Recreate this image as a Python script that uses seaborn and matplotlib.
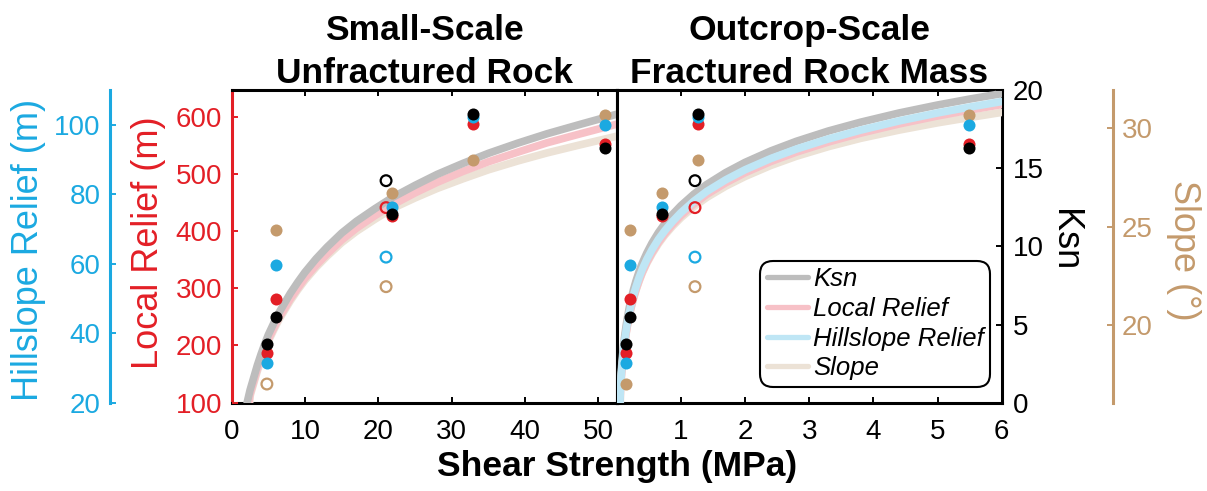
import matplotlib
matplotlib.use("Agg")
import matplotlib.pyplot as plt
from matplotlib.lines import Line2D
import seaborn as sns

# ---- values ----
# five sites, filled markers
ucs_mpa = [4.8, 6.05, 21.85, 32.9, 50.9]        # small-scale unfractured rock strength
mass_mpa = [0.145, 0.207, 0.71, 1.27, 5.49]     # outcrop-scale rock mass strength
ksn = [3.75, 5.5, 12.1, 18.45, 16.3]
local_relief = [186, 281, 427, 587, 553]
hillslope_relief = [31.3, 59.5, 76.2, 102.3, 100.0]
slope = [17.0, 24.85, 26.7, 28.4, 30.7]
slope_hollow_left = [True, False, False, False, False]

# site drawn with hollow markers
hollow_ucs = [21.05]
hollow_mass = [1.22]
hollow_ksn = [14.2]
hollow_local_relief = [441]
hollow_hillslope_relief = [61.9]
hollow_slope = [21.95]

# fitted curves
fit_ucs_ksn_x = [2.1, 2.3, 2.5, 2.75, 3, 3.5, 4, 4.5, 5, 5.75, 6.5, 7.25, 8, 9, 10, 11.5,
                 13, 15, 17, 19.5, 22, 25, 28, 31.5, 35, 39, 43, 47.5, 52.5]
fit_ucs_ksn = [0.0, 0.4, 0.8, 1.2, 1.6, 2.4, 3.1, 3.75, 4.35, 5.1, 5.8, 6.4, 7.0, 7.7,
               8.35, 9.2, 9.95, 10.85, 11.6, 12.4, 13.15, 13.9, 14.6, 15.3, 15.95, 16.6,
               17.2, 17.8, 18.45]
fit_ucs_lr_x = [2.35, 2.5, 2.75, 3, 3.5, 4, 4.5, 5, 5.75, 6.5, 7.25, 8, 9, 10, 11.5, 13,
                15, 17, 19.5, 22, 25, 28, 31.5, 35, 39, 43, 47.5, 52.5]
fit_ucs_lr = [100, 114.9, 125.8, 136.7, 158.6, 177.8, 195.5, 211.0, 230.6, 249.8, 265.4,
              281.6, 300.0, 317.8, 340.0, 359.8, 384.4, 404.9, 426.7, 446.3, 466.7, 485.1,
              504.1, 521.1, 537.9, 554.3, 569.9, 586.8]
fit_ucs_slope_x = [2.45, 2.5, 2.75, 3, 3.5, 4, 4.5, 5, 5.75, 6.5, 7.25, 8, 9, 10, 11.5,
                   13, 15, 17, 19.5, 22, 25, 28, 31.5, 35, 39, 43, 47.5, 52.5]
fit_ucs_slope = [16.05, 16.38, 16.70, 17.02, 17.65, 18.21, 18.71, 19.18, 19.76, 20.31,
                 20.77, 21.23, 21.78, 22.28, 22.93, 23.50, 24.19, 24.76, 25.37, 25.94,
                 26.46, 26.94, 27.43, 27.89, 28.34, 28.75, 29.16, 29.60]

fit_mass_ksn_x = [0.045, 0.05, 0.06, 0.07, 0.08, 0.09, 0.1, 0.115, 0.13, 0.15, 0.17, 0.195,
                  0.22, 0.26, 0.3, 0.35, 0.4, 0.47, 0.55, 0.65, 0.75, 0.87, 1.0, 1.2, 1.4,
                  1.7, 2.0, 2.4, 2.8, 3.3, 3.8, 4.4, 5.0, 5.5, 6.0]
fit_mass_ksn = [0.0, 0.62, 1.35, 1.96, 2.50, 2.97, 3.39, 3.95, 4.44, 5.01, 5.51, 6.06,
                6.54, 7.21, 7.78, 8.40, 8.94, 9.58, 10.21, 10.88, 11.45, 12.04, 12.6,
                13.33, 13.95, 14.72, 15.37, 16.10, 16.72, 17.38, 17.94, 18.53, 19.04,
                19.42, 19.77]
fit_mass_hr_x = [0.05, 0.06, 0.07, 0.08, 0.09, 0.1, 0.115, 0.13, 0.15, 0.17, 0.195, 0.22,
                 0.26, 0.3, 0.35, 0.4, 0.47, 0.55, 0.65, 0.75, 0.87, 1.0, 1.2, 1.4, 1.7,
                 2.0, 2.4, 2.8, 3.3, 3.8, 4.4, 5.0, 5.5, 6.0]
fit_mass_hr = [20, 24.92, 27.66, 30.10, 32.20, 34.05, 36.52, 38.65, 41.16, 43.35, 45.76,
               47.89, 50.83, 53.33, 56.07, 58.46, 61.28, 64.04, 67.01, 69.51, 72.16, 74.69,
               77.97, 80.77, 84.16, 87.04, 90.27, 93.00, 95.91, 98.44, 101.09, 103.39,
               105.09, 106.67]
fit_mass_lr_x = [0.052, 0.06, 0.07, 0.08, 0.09, 0.1, 0.115, 0.13, 0.15, 0.17, 0.195, 0.22,
                 0.26, 0.3, 0.35, 0.4, 0.47, 0.55, 0.65, 0.75, 0.87, 1.0, 1.2, 1.4, 1.7,
                 2.0, 2.4, 2.8, 3.3, 3.8, 4.4, 5.0, 5.5, 6.0]
fit_mass_lr = [100, 124.6, 141.3, 156.1, 168.9, 180.1, 195.1, 208.0, 223.2, 236.5, 251.2,
               264.1, 282.0, 297.2, 313.8, 328.3, 345.4, 362.2, 380.2, 395.4, 411.5, 426.9,
               446.8, 463.8, 484.4, 501.9, 521.5, 538.0, 555.7, 571.1, 587.2, 601.2, 611.5,
               621.1]
fit_mass_slope_x = [0.056, 0.06, 0.07, 0.08, 0.09, 0.1, 0.115, 0.13, 0.15, 0.17, 0.195,
                    0.22, 0.26, 0.3, 0.35, 0.4, 0.47, 0.55, 0.65, 0.75, 0.87, 1.0, 1.2, 1.4,
                    1.7, 2.0, 2.4, 2.8, 3.3, 3.8, 4.4, 5.0, 5.5, 6.0]
fit_mass_slope = [16.05, 16.82, 17.29, 17.71, 18.07, 18.40, 18.84, 19.21, 19.64, 20.03,
                  20.45, 20.82, 21.33, 21.76, 22.23, 22.65, 23.14, 23.61, 24.13, 24.57,
                  25.02, 25.45, 26.01, 26.48, 27.06, 27.55, 28.11, 28.58, 29.07, 29.49,
                  29.91, 30.28, 30.55, 30.81]

legend_labels = ["Ksn", "Local Relief", "Hillslope Relief", "Slope"]

# ---- style ----
sns.set_style("white")
plt.rcParams["font.family"] = ["Liberation Sans", "DejaVu Sans"]
plt.rcParams["text.color"] = "black"
plt.rcParams["axes.labelcolor"] = "black"

RED = "#e31f26"
CYAN = "#1ba9e1"
TAN = "#c49a6c"
BLACK = "#000000"
FIT = {"ksn": "#bdbdbd", "lr": "#f7c1c7", "hr": "#bfe6f5", "slope": "#ece2d6"}
LIMS = {"ksn": (0, 20), "lr": (100, 646.6), "hr": (20, 110), "slope": (16.05, 31.95)}
TICK = dict(direction="in", length=4, width=1.4, labelsize=20)

fig = plt.figure(figsize=(12.07, 4.91), dpi=100)


def build_panel(rect, curve_order):
    base = fig.add_axes(rect)
    base.set_yticks([])
    curve_ax = {k: base.twinx() for k in curve_order}
    point_ax = {k: base.twinx() for k in ["slope", "lr", "hr", "ksn"]}
    for s in base.spines.values():
        s.set_linewidth(2.2)
        s.set_color(BLACK)
    base.tick_params(axis="x", top=True, bottom=True, pad=12, colors=BLACK, **TICK)
    return base, curve_ax, point_ax


def draw_fit(ax, x, y, key):
    sns.lineplot(x=x, y=y, ax=ax, color=FIT[key], linewidth=5.5,
                 estimator=None, sort=False, legend=False)


def draw_pts(ax, x, y, color, hollow=False):
    if len(x) == 0:
        return
    sns.scatterplot(x=x, y=y, ax=ax, color=color, s=60 if hollow else 75,
                    linewidth=0, legend=False)
    if hollow:
        coll = ax.collections[-1]
        coll.set_facecolor("none")
        coll.set_edgecolor(color)
        coll.set_linewidth(1.6)


def finish(base, curve_ax, point_ax, xlim):
    for k, a in list(curve_ax.items()) + list(point_ax.items()):
        a.set_ylim(LIMS[k])
        a.set_yticks([])
        a.set_ylabel("")
        for s in a.spines.values():
            s.set_visible(False)
    base.set_xlim(xlim)


# ---- left panel: small-scale unfractured rock ----
bL, cL, pL = build_panel([0.19196, 0.17984, 0.31897, 0.63686], ["slope", "lr", "ksn"])
draw_fit(cL["slope"], fit_ucs_slope_x, fit_ucs_slope, "slope")
draw_fit(cL["lr"], fit_ucs_lr_x, fit_ucs_lr, "lr")
draw_fit(cL["ksn"], fit_ucs_ksn_x, fit_ucs_ksn, "ksn")

draw_pts(pL["slope"], [x for x, h in zip(ucs_mpa, slope_hollow_left) if not h],
         [v for v, h in zip(slope, slope_hollow_left) if not h], TAN)
draw_pts(pL["slope"], [x for x, h in zip(ucs_mpa, slope_hollow_left) if h],
         [v for v, h in zip(slope, slope_hollow_left) if h], TAN, hollow=True)
draw_pts(pL["slope"], hollow_ucs, hollow_slope, TAN, hollow=True)
draw_pts(pL["lr"], ucs_mpa, local_relief, RED)
draw_pts(pL["lr"], hollow_ucs, hollow_local_relief, RED, hollow=True)
draw_pts(pL["hr"], ucs_mpa, hillslope_relief, CYAN)
draw_pts(pL["hr"], hollow_ucs, hollow_hillslope_relief, CYAN, hollow=True)
draw_pts(pL["ksn"], ucs_mpa, ksn, BLACK)
draw_pts(pL["ksn"], hollow_ucs, hollow_ksn, BLACK, hollow=True)
finish(bL, cL, pL, (0, 52.5))
bL.set_xticks([0, 10, 20, 30, 40, 50])
bL.spines["left"].set_color(RED)
bL.set_title("Small-Scale\nUnfractured Rock", fontsize=25.5, fontweight="bold",
             pad=4, linespacing=1.37)

ax = pL["lr"]
ax.yaxis.tick_left()
ax.set_yticks([100, 200, 300, 400, 500, 600])
ax.tick_params(axis="y", colors=RED, pad=7, **TICK)
ax.yaxis.set_label_position("left")
ax.set_ylabel("Local Relief (m)", color=RED, fontsize=26, va="center")
ax.yaxis.set_label_coords(-0.217, 0.512)

ax = pL["hr"]
ax.spines["left"].set_visible(True)
ax.spines["left"].set_position(("axes", -0.316))
ax.spines["left"].set_color(CYAN)
ax.spines["left"].set_linewidth(2.2)
ax.yaxis.tick_left()
ax.set_yticks([20, 40, 60, 80, 100])
ax.tick_params(axis="y", colors=CYAN, pad=7, **TICK)
ax.yaxis.set_label_position("left")
ax.set_ylabel("Hillslope Relief (m)", color=CYAN, fontsize=26, va="center")
ax.yaxis.set_label_coords(-0.5265, 0.488)

# ---- right panel: outcrop-scale fractured rock mass ----
bR, cR, pR = build_panel([0.51094, 0.17984, 0.31897, 0.63686],
                         ["slope", "lr", "ksn", "hr"])
draw_fit(cR["slope"], fit_mass_slope_x, fit_mass_slope, "slope")
draw_fit(cR["lr"], fit_mass_lr_x, fit_mass_lr, "lr")
draw_fit(cR["ksn"], fit_mass_ksn_x, fit_mass_ksn, "ksn")
draw_fit(cR["hr"], fit_mass_hr_x, fit_mass_hr, "hr")

draw_pts(pR["slope"], mass_mpa, slope, TAN)
draw_pts(pR["slope"], hollow_mass, hollow_slope, TAN, hollow=True)
draw_pts(pR["lr"], mass_mpa, local_relief, RED)
draw_pts(pR["lr"], hollow_mass, hollow_local_relief, RED, hollow=True)
draw_pts(pR["hr"], mass_mpa, hillslope_relief, CYAN)
draw_pts(pR["hr"], hollow_mass, hollow_hillslope_relief, CYAN, hollow=True)
draw_pts(pR["ksn"], mass_mpa, ksn, BLACK)
draw_pts(pR["ksn"], hollow_mass, hollow_ksn, BLACK, hollow=True)
finish(bR, cR, pR, (0, 6))
bR.set_xticks([1, 2, 3, 4, 5, 6])
bR.set_title("Outcrop-Scale\nFractured Rock Mass", fontsize=25.5, fontweight="bold",
             pad=4, linespacing=1.37)

ax = pR["ksn"]
ax.yaxis.tick_right()
ax.set_yticks([0, 5, 10, 15, 20])
ax.tick_params(axis="y", colors=BLACK, pad=8, **TICK)
ax.yaxis.set_label_position("right")
ax.set_ylabel("Ksn", color=BLACK, fontsize=26, rotation=270, va="center")
ax.yaxis.set_label_coords(1.164, 0.52)

ax = pR["slope"]
ax.spines["right"].set_visible(True)
ax.spines["right"].set_position(("axes", 1.29))
ax.spines["right"].set_color(TAN)
ax.spines["right"].set_linewidth(2.2)
ax.yaxis.tick_right()
ax.set_yticks([20, 25, 30])
ax.tick_params(axis="y", colors=TAN, pad=6, **TICK)
ax.yaxis.set_label_position("right")
ax.set_ylabel("Slope (°)", color=TAN, fontsize=26, rotation=270, va="center")
ax.yaxis.set_label_coords(1.472, 0.488)

handles = [Line2D([], [], color=FIT[k], lw=3.8) for k in ["ksn", "lr", "hr", "slope"]]
leg = pR["ksn"].legend(handles, legend_labels, loc="lower right",
                       bbox_to_anchor=(0.97, 0.051), prop={"style": "italic", "size": 18.5},
                       frameon=True, fancybox=True, edgecolor=BLACK, framealpha=1,
                       handlelength=1.6, handletextpad=0.2, labelspacing=0.22,
                       borderpad=0.25, borderaxespad=0)
leg.get_frame().set_linewidth(1.5)
leg.get_frame().set_boxstyle("round", pad=0, rounding_size=0.5)

fig.text(616.7 / 1207, 0.031, "Shear Strength (MPa)", ha="center", va="baseline",
         fontsize=25.5, fontweight="bold")

fig.savefig("out.png", dpi=100)
